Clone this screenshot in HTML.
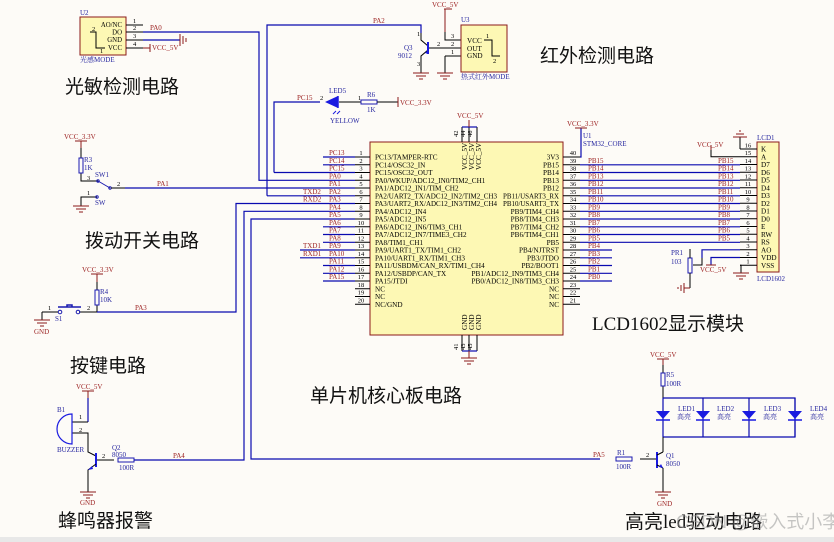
<!DOCTYPE html>
<html><head><meta charset="utf-8"><style>
html,body{margin:0;padding:0;background:#fdfbf7;}
svg{display:block}
text{font-family:"Liberation Serif","Noto Serif CJK SC",serif;}
.r{fill:#9b1f1f;font-size:7px}
.b{fill:#2828a0;font-size:7px}
.k{fill:#000;font-size:7px}
.t{fill:#000;font-size:7.2px}
.n{fill:#000;font-size:6.5px}
.big{font-family:"Liberation Serif","Noto Sans CJK SC",sans-serif;font-size:19px;fill:#111}
.w{stroke:#0a0ab0;stroke-width:1.2;fill:none}
.p{stroke:#000;stroke-width:1;fill:none}
.rl{stroke:#8b1a1a;stroke-width:1;fill:none}
</style></head><body>
<svg width="834" height="542" viewBox="0 0 834 542" xmlns="http://www.w3.org/2000/svg">
<rect x="0" y="0" width="834" height="542" fill="#fdfbf7"/>
<rect x="0" y="537" width="834" height="5" fill="#e8e8e8"/>

<!-- ===== Chip U1 ===== -->
<rect x="370" y="142" width="193" height="193" fill="#fdf8b4" stroke="#8b1a1a" stroke-width="1"/>
<path class="p" d="M462 127V142M469 127V142M477 127V142"/>
<path class="w" d="M462 127H477"/>
<path class="rl" d="M469 127V120"/>
<text class="r" x="457" y="118">VCC_5V</text>
<text class="n" x="458" y="137" transform="rotate(-90 458 137)">42</text>
<text class="n" x="465" y="137" transform="rotate(-90 465 137)">44</text>
<text class="n" x="472" y="137" transform="rotate(-90 472 137)">46</text>
<text class="t" x="467" y="170" transform="rotate(-90 467 170)">VCC_5V</text>
<text class="t" x="474" y="170" transform="rotate(-90 474 170)">VCC_5V</text>
<text class="t" x="481" y="170" transform="rotate(-90 481 170)">VCC_5V</text>
<path class="p" d="M462 335V351M469 335V351M477 335V351"/>
<path class="w" d="M462 351H477"/>
<path class="rl" d="M469 351V358M461 358H477M464 361H474M467 364H471"/>
<text class="t" x="467" y="330" transform="rotate(-90 467 330)">GND</text>
<text class="t" x="474" y="330" transform="rotate(-90 474 330)">GND</text>
<text class="t" x="481" y="330" transform="rotate(-90 481 330)">GND</text>
<text class="n" x="458" y="350" transform="rotate(-90 458 350)">41</text>
<text class="n" x="465" y="350" transform="rotate(-90 465 350)">43</text>
<text class="n" x="472" y="350" transform="rotate(-90 472 350)">45</text>

<path class="p" d="M355 157H370M355 164.8H370M355 172.5H370M355 180.3H370M355 188H370M355 195.8H370M355 203.5H370M355 211.3H370M355 219H370M355 226.8H370M355 234.5H370M355 242.3H370M355 250H370M355 257.8H370M355 265.5H370M355 273.3H370M355 281H370M355 288.8H370M355 296.5H370M355 304.3H370"/>
<path class="w" d="M323 157H355M323 164.8H355M323 172.5H355M323 180.3H355M323 188H355M323 195.8H355M323 203.5H355M323 211.3H355M323 219H355M323 226.8H355M323 234.5H355M323 242.3H355M323 250H355M323 257.8H355M323 265.5H355M323 273.3H355M323 281H355"/>
<g class="n" text-anchor="middle">
<text x="361" y="155">1</text><text x="361" y="163">2</text><text x="361" y="170.5">3</text><text x="361" y="178.3">4</text><text x="361" y="186">5</text><text x="361" y="193.8">6</text><text x="361" y="201.5">7</text><text x="361" y="209.3">8</text><text x="361" y="217">9</text><text x="361" y="224.8">10</text><text x="361" y="232.5">11</text><text x="361" y="240.3">12</text><text x="361" y="248">13</text><text x="361" y="255.8">14</text><text x="361" y="263.5">15</text><text x="361" y="271.3">16</text><text x="361" y="279">17</text><text x="361" y="286.8">18</text><text x="361" y="294.5">19</text><text x="361" y="302.3">20</text>
</g>
<g class="r">
<text x="329" y="155">PC13</text><text x="329" y="163">PC14</text><text x="329" y="170.5">PC15</text><text x="329" y="178.3">PA0</text><text x="329" y="186">PA1</text><text x="329" y="193.8">PA2</text><text x="329" y="201.5">PA3</text><text x="329" y="209.3">PA4</text><text x="329" y="217">PA5</text><text x="329" y="224.8">PA6</text><text x="329" y="232.5">PA7</text><text x="329" y="240.3">PA8</text><text x="329" y="248">PA9</text><text x="329" y="255.8">PA10</text><text x="329" y="263.5">PA11</text><text x="329" y="271.3">PA12</text><text x="329" y="279">PA15</text>
<text x="303" y="193.8">TXD2</text><text x="303" y="201.5">RXD2</text><text x="303" y="248">TXD1</text><text x="303" y="255.8">RXD1</text>
</g>
<path class="w" d="M300 250H323M300 257.8H323"/>
<g class="t">
<text x="375" y="159.5">PC13/TAMPER-RTC</text><text x="375" y="167.3">PC14/OSC32_IN</text><text x="375" y="175">PC15/OSC32_OUT</text><text x="375" y="182.8">PA0/WKUP/ADC12_IN0/TIM2_CH1</text><text x="375" y="190.5">PA1/ADC12_IN1/TIM_CH2</text><text x="375" y="198.3" textLength="122" lengthAdjust="spacingAndGlyphs">PA2/UART2_TX/ADC12_IN2/TIM2_CH3</text><text x="375" y="206" textLength="122" lengthAdjust="spacingAndGlyphs">PA3/UART2_RX/ADC12_IN3/TIM2_CH4</text><text x="375" y="213.8">PA4/ADC12_IN4</text><text x="375" y="221.5">PA5/ADC12_IN5</text><text x="375" y="229.3">PA6/ADC12_IN6/TIM3_CH1</text><text x="375" y="237">PA7/ADC12_IN7/TIME3_CH2</text><text x="375" y="244.8">PA8/TIM1_CH1</text><text x="375" y="252.5">PA9/UART1_TX/TIM1_CH2</text><text x="375" y="260.3">PA10/UART1_RX/TIM1_CH3</text><text x="375" y="268">PA11/USBDM/CAN_RX/TIM1_CH4</text><text x="375" y="275.8">PA12/USBDP/CAN_TX</text><text x="375" y="283.5">PA15/JTDI</text><text x="375" y="291.3">NC</text><text x="375" y="299">NC</text><text x="375" y="306.8">NC/GND</text>
</g>
<g class="t">
<text x="503" y="198.3" textLength="56" lengthAdjust="spacingAndGlyphs">PB11/USART3_RX</text><text x="503" y="206" textLength="56" lengthAdjust="spacingAndGlyphs">PB10/USART3_TX</text>
</g>
<g class="t" text-anchor="end">
<text x="559" y="159.5">3V3</text><text x="559" y="167.3">PB15</text><text x="559" y="175">PB14</text><text x="559" y="182.8">PB13</text><text x="559" y="190.5">PB12</text><text x="559" y="213.8">PB9/TIM4_CH4</text><text x="559" y="221.5">PB8/TIM4_CH3</text><text x="559" y="229.3">PB7/TIM4_CH2</text><text x="559" y="237">PB6/TIM4_CH1</text><text x="559" y="244.8">PB5</text><text x="559" y="252.5">PB4/NJTRST</text><text x="559" y="260.3">PB3/JTDO</text><text x="559" y="268">PB2/BOOT1</text><text x="559" y="275.8">PB1/ADC12_IN9/TIM3_CH4</text><text x="559" y="283.5">PB0/ADC12_IN8/TIM3_CH3</text><text x="559" y="291.3">NC</text><text x="559" y="299">NC</text><text x="559" y="306.8">NC</text>
</g>
<path class="p" d="M563 157H580M563 164.8H580M563 172.5H580M563 180.3H580M563 188H580M563 195.8H580M563 203.5H580M563 211.3H580M563 219H580M563 226.8H580M563 234.5H580M563 242.3H580M563 250H580M563 257.8H580M563 265.5H580M563 273.3H580M563 281H580M563 288.8H580M563 296.5H580M563 304.3H580"/>
<g class="n" text-anchor="middle">
<text x="573" y="155">40</text><text x="573" y="163">39</text><text x="573" y="170.5">38</text><text x="573" y="178.3">37</text><text x="573" y="186">36</text><text x="573" y="193.8">35</text><text x="573" y="201.5">34</text><text x="573" y="209.3">33</text><text x="573" y="217">32</text><text x="573" y="224.8">31</text><text x="573" y="232.5">30</text><text x="573" y="240.3">29</text><text x="573" y="248">28</text><text x="573" y="255.8">27</text><text x="573" y="263.5">26</text><text x="573" y="271.3">25</text><text x="573" y="279">24</text><text x="573" y="286.8">23</text><text x="573" y="294.5">22</text><text x="573" y="302.3">21</text>
</g>
<path class="w" d="M580 157H581V128"/>
<path class="rl" d="M575 128H587"/>
<text class="r" x="567" y="126">VCC_3.3V</text>
<text class="b" x="583" y="138">U1</text>
<text class="b" x="583" y="146">STM32_CORE</text>
<path class="w" d="M580 164.8H740M580 172.5H740M580 180.3H740M580 188H740M580 195.8H740M580 203.5H740M580 211.3H740M580 219H740M580 226.8H740M580 234.5H740M580 242.3H740M580 250H612M580 257.8H612M580 265.5H612M580 273.3H612M580 281H612"/>
<g class="r">
<text x="588" y="163">PB15</text><text x="588" y="170.5">PB14</text><text x="588" y="178.3">PB13</text><text x="588" y="186">PB12</text><text x="588" y="193.8">PB11</text><text x="588" y="201.5">PB10</text><text x="588" y="209.3">PB9</text><text x="588" y="217">PB8</text><text x="588" y="224.8">PB7</text><text x="588" y="232.5">PB6</text><text x="588" y="240.3">PB5</text><text x="588" y="248">PB4</text><text x="588" y="255.8">PB3</text><text x="588" y="263.5">PB2</text><text x="588" y="271.3">PB1</text><text x="588" y="279">PB0</text>
<text x="718" y="163">PB15</text><text x="718" y="170.5">PB14</text><text x="718" y="178.3">PB13</text><text x="718" y="186">PB12</text><text x="718" y="193.8">PB11</text><text x="718" y="201.5">PB10</text><text x="718" y="209.3">PB9</text><text x="718" y="217">PB8</text><text x="718" y="224.8">PB7</text><text x="718" y="232.5">PB6</text><text x="718" y="240.3">PB5</text>
</g>

<!-- ===== LCD1 ===== -->
<rect x="757" y="142" width="22" height="130" fill="#fdf8b4" stroke="#8b1a1a"/>
<path class="p" d="M740 149H757M740 156.8H757M740 164.5H757M740 172.3H757M740 180H757M740 187.8H757M740 195.5H757M740 203.3H757M740 211H757M740 218.8H757M740 226.5H757M740 234.3H757M740 242H757M740 249.8H757M740 257.5H757M740 265.3H757"/>
<g class="n" text-anchor="middle">
<text x="748" y="147.5">16</text><text x="748" y="155">15</text><text x="748" y="163">14</text><text x="748" y="170.5">13</text><text x="748" y="178.3">12</text><text x="748" y="186">11</text><text x="748" y="193.8">10</text><text x="748" y="201.5">9</text><text x="748" y="209.3">8</text><text x="748" y="217">7</text><text x="748" y="224.8">6</text><text x="748" y="232.5">5</text><text x="748" y="240.3">4</text><text x="748" y="248">3</text><text x="748" y="255.8">2</text><text x="748" y="263.5">1</text>
</g>
<g class="t">
<text x="761" y="151.5">K</text><text x="761" y="159.3">A</text><text x="761" y="167">D7</text><text x="761" y="174.8">D6</text><text x="761" y="182.5">D5</text><text x="761" y="190.3">D4</text><text x="761" y="198">D3</text><text x="761" y="205.8">D2</text><text x="761" y="213.5">D1</text><text x="761" y="221.3">D0</text><text x="761" y="229">E</text><text x="761" y="236.8">RW</text><text x="761" y="244.5">RS</text><text x="761" y="252.3">AO</text><text x="761" y="260">VDD</text><text x="761" y="267.8">VSS</text>
</g>
<text class="b" x="757" y="140">LCD1</text>
<text class="b" x="757" y="281">LCD1602</text>
<path class="p" d="M740 149V137"/>
<path class="rl" d="M733 137H747M736 134H744M739 131H741"/>
<path class="p" d="M740 156.8H711V150"/>
<path class="rl" d="M711 150V145"/><text class="r" x="697" y="147">VCC_5V</text>
<path class="w" d="M740 249.8H702V258"/>
<path class="w" d="M740 257.5H711V265"/>
<path class="rl" d="M706 265H716"/><text class="r" x="700" y="272">VCC_5V</text>
<path class="p" d="M740 265.3H741V273"/>
<path class="rl" d="M733 273H749M736 276H746M739 279H743"/>
<rect x="688" y="258" width="4" height="15" fill="none" stroke="#1a1ab0"/>
<path class="p" d="M690 249V258M690 273V288"/>
<path class="p" d="M693 265H702V258"/>
<path class="rl" d="M690 288H684M684 283V293M681 285V291M678 287V289"/>
<text class="b" x="671" y="255">PR1</text><text class="b" x="671" y="264">103</text>

<!-- ===== U2 ===== -->
<rect x="80" y="17" width="46" height="38" fill="#fdf8b4" stroke="#8b1a1a"/>
<path class="p" d="M126 25H143M126 32H143M126 40H143M126 48H143"/>
<path class="p" d="M90 32H96V48H105"/>
<g class="t" text-anchor="end" style="font-size:6.8px"><text x="122" y="27">AO/NC</text><text x="122" y="34.5">DO</text><text x="122" y="42">GND</text><text x="122" y="50">VCC</text></g>
<g class="n"><text x="133" y="23">1</text><text x="133" y="30">2</text><text x="133" y="38">3</text><text x="133" y="46">4</text><text x="92" y="31">2</text><text x="100" y="53">1</text></g>
<text class="b" x="80" y="15">U2</text><text class="b" x="80" y="62">光感MODE</text>
<text class="r" x="150" y="30">PA0</text>
<path class="w" d="M143 32H259V180.3H323"/>
<path class="w" d="M143 40H180"/>
<path class="rl" d="M180 34V46M183 36V44M186 38V42"/>
<path class="rl" d="M143 48H150M150 44V52"/><text class="r" x="152" y="50">VCC_5V</text>
<text class="big" x="65" y="93">光敏检测电路</text>

<!-- ===== SW1 ===== -->
<text class="r" x="64" y="139">VCC_3.3V</text>
<path class="rl" d="M75 141H87M81 141V148"/>
<path class="p" d="M81 148V158M81 173V181H98"/>
<rect x="79" y="158" width="4" height="15" fill="none" stroke="#1a1ab0"/>
<text class="b" x="84" y="162">R3</text><text class="b" x="84" y="170">1K</text>
<text class="n" x="87" y="180">3</text><text class="b" x="95" y="177">SW1</text>
<path d="M98 181L110 188" stroke="#1a1ab0" fill="none"/>
<circle cx="98" cy="181" r="1.2" fill="none" stroke="#1a1ab0"/><circle cx="110" cy="188" r="1.2" fill="none" stroke="#1a1ab0"/>
<path class="p" d="M111 188H125"/><text class="n" x="117" y="186">2</text>
<path class="w" d="M125 188H323"/><text class="r" x="157" y="186">PA1</text>
<path class="p" d="M81 206V197H97"/><text class="n" x="87" y="195">1</text><text class="b" x="95" y="205">SW</text>
<circle cx="97" cy="197" r="1.2" fill="none" stroke="#1a1ab0"/>
<path class="rl" d="M73 206H89M76 209H86M79 212H83"/>
<text class="big" x="85" y="247">拨动开关电路</text>

<path class="w" d="M267 195.8V25H421V33"/>
<text class="r" x="373" y="23">PA2</text>
<path class="w" d="M323 195.8H267"/>
<path class="w" d="M274 172.5V102H320"/>
<path class="w" d="M323 172.5H274"/>
<text class="r" x="297" y="100">PC15</text><text class="n" x="320" y="100">2</text>

<!-- LED5 -->
<path d="M325 102L338 96V108Z" fill="#1a1ae0"/><path d="M338 96V108" stroke="#1a1ae0" stroke-width="1.5"/>
<path class="p" d="M339 102H361"/><text class="n" x="358" y="100">1</text>
<text class="b" x="329" y="93">LED5</text><text class="b" x="330" y="123">YELLOW</text>
<path d="M336 111l-3 3M340 111l-3 3" stroke="#1a1ae0"/>
<rect x="361" y="100" width="16" height="4" fill="none" stroke="#1a1ab0"/>
<text class="b" x="367" y="97">R6</text><text class="b" x="367" y="112">1K</text>
<path class="p" d="M377 102H398"/><path class="rl" d="M398 97V107"/><text class="r" x="400" y="105">VCC_3.3V</text>

<!-- ===== Q3 + U3 ===== -->
<path class="p" d="M421 33V40L428 46M428 50L421 56V73"/>
<path d="M428 42V54" stroke="#1a1ae0" stroke-width="2"/>
<path d="M425 53l3-3 0 4z" fill="#1a1ae0"/>
<text class="b" x="404" y="50">Q3</text><text class="b" x="398" y="58">9012</text>
<text class="n" x="417" y="36">1</text><text class="n" x="417" y="66">3</text>
<path class="p" d="M429 48H461"/><text class="n" x="437" y="46">2</text>
<path class="rl" d="M413 73H429M416 76H426M419 79H423"/>
<text class="r" x="432" y="7">VCC_5V</text>
<path class="rl" d="M444 9H452M445 9V32"/>
<path class="p" d="M445 32V40H461M445 56H461M445 56V73"/>
<path class="rl" d="M437 73H453M440 76H450M443 79H447"/>
<rect x="461" y="25" width="46" height="47" fill="#fdf8b4" stroke="#8b1a1a"/>
<g class="t"><text x="467" y="43">VCC</text><text x="467" y="51">OUT</text><text x="467" y="58">GND</text></g>
<g class="n"><text x="451" y="38">3</text><text x="451" y="46">2</text><text x="451" y="54">1</text><text x="486" y="38">1</text><text x="493" y="63">2</text></g>
<path class="p" d="M484 40H492V56H500"/>
<text class="b" x="461" y="22">U3</text><text class="b" x="461" y="79">热式红外MODE</text>
<text class="big" x="540" y="62">红外检测电路</text>

<!-- ===== S1 ===== -->
<text class="r" x="82" y="272">VCC_3.3V</text>
<path class="rl" d="M91 274H103M97 274V282"/>
<path class="p" d="M97 282V290M97 305V312"/>
<rect x="95" y="290" width="4" height="15" fill="none" stroke="#1a1ab0"/>
<text class="b" x="100" y="294">R4</text><text class="b" x="100" y="302">10K</text>
<path class="w" d="M97 312H236V203.5H323"/>
<text class="r" x="135" y="310">PA3</text>
<path class="p" d="M79 312H97"/><text class="n" x="87" y="310">2</text>
<circle cx="78" cy="312" r="1.8" fill="none" stroke="#1a1ab0"/><circle cx="60" cy="312" r="1.8" fill="none" stroke="#1a1ab0"/>
<path d="M58 307H81M67 307V305H72V307" stroke="#1a1ab0" fill="none" stroke-width="1.5"/>
<path class="p" d="M42 312H58V312"/><text class="n" x="48" y="310">1</text><text class="b" x="55" y="321">S1</text>
<path class="p" d="M42 312V320"/>
<path class="rl" d="M34 320H50M37 323H47M40 326H44"/><text class="r" x="34" y="334">GND</text>
<text class="big" x="70" y="372">按键电路</text>

<!-- ===== Buzzer ===== -->
<text class="r" x="76" y="389">VCC_5V</text>
<path class="rl" d="M82 391H94M88 391V398"/>
<path class="w" d="M88 398V422"/><path class="p" d="M88 422H72"/>
<path class="p" d="M72 433H88V452L96 456"/>
<path d="M72 414V444A15 15 0 0 1 72 414Z" fill="none" stroke="#1a1ae0" stroke-width="1.2"/>
<text class="b" x="57" y="412">B1</text><text class="b" x="57" y="452">BUZZER</text>
<text class="n" x="79" y="419">1</text><text class="n" x="79" y="432">2</text>
<path d="M96 453V467" stroke="#1a1ae0" stroke-width="2"/>
<path class="p" d="M96 464L88 470V492"/>
<path d="M88 470l4-4 1 3z" fill="#1a1ae0"/>
<path class="p" d="M97 460H114"/><text class="n" x="102" y="458">2</text>
<text class="b" x="112" y="450">Q2</text><text class="b" x="112" y="457">8050</text>
<rect x="118" y="458" width="16" height="4" fill="none" stroke="#1a1ab0"/>
<text class="b" x="119" y="470">100R</text>
<path class="w" d="M134 460H244V211.3H323"/>
<text class="r" x="173" y="458">PA4</text>
<path class="rl" d="M80 492H96M83 495H93M86 498H90"/><text class="r" x="80" y="505">GND</text>
<text class="big" x="58" y="527">蜂鸣器报警</text>

<path class="w" d="M323 219H251V459H600"/>
<text class="r" x="593" y="457">PA5</text>
<text class="big" x="310" y="402">单片机核心板电路</text>
<text class="big" x="592" y="330">LCD1602显示模块</text>

<!-- ===== LED driver ===== -->
<text class="r" x="650" y="357">VCC_5V</text>
<path class="rl" d="M657 359H669M663 359V365"/>
<path class="p" d="M663 365V373M663 386V398"/>
<rect x="661" y="373" width="4" height="13" fill="none" stroke="#1a1ab0"/>
<text class="b" x="666" y="377">R5</text><text class="b" x="666" y="386">100R</text>
<path class="w" d="M663 398H795V437H663"/>
<path class="w" d="M663 398V437M703 398V437M749 398V437M795 398V437"/>
<g fill="#1a1ae0">
<path d="M656 411H670L663 419Z"/><path d="M696 411H710L703 419Z"/><path d="M742 411H756L749 419Z"/><path d="M788 411H802L795 419Z"/>
</g>
<path d="M656 420H670M696 420H710M742 420H756M788 420H802" stroke="#1a1ae0" stroke-width="1.5"/>
<g class="b"><text x="678" y="411">LED1</text><text x="677" y="419">高亮</text><text x="717" y="411">LED2</text><text x="717" y="419">高亮</text><text x="764" y="411">LED3</text><text x="763" y="419">高亮</text><text x="810" y="411">LED4</text><text x="810" y="419">高亮</text></g>
<path class="p" d="M663 437V452M663 468V492"/>
<path d="M657 452V468" stroke="#1a1ae0" stroke-width="2"/>
<path class="p" d="M657 455L663 452M657 465L663 468"/>
<path d="M663 468l-4-1 2-3z" fill="#1a1ae0"/>
<path class="p" d="M640 459H656"/><text class="n" x="646" y="457">2</text>
<rect x="616" y="457" width="16" height="4" fill="none" stroke="#1a1ab0"/>
<text class="b" x="617" y="455">R1</text><text class="b" x="616" y="469">100R</text>
<text class="b" x="666" y="458">Q1</text><text class="b" x="666" y="466">8050</text>
<path class="rl" d="M655 492H671M658 495H668M661 498H665"/><text class="r" x="657" y="506">GND</text>
<text class="big" x="625" y="528">高亮led驱动电路</text>
<text x="676" y="528" style="font-family:'Liberation Sans','Noto Sans CJK SC',sans-serif;font-size:18px;fill:#999;opacity:0.55">CSDN @嵌入式小李</text>
</svg>
</body></html>
